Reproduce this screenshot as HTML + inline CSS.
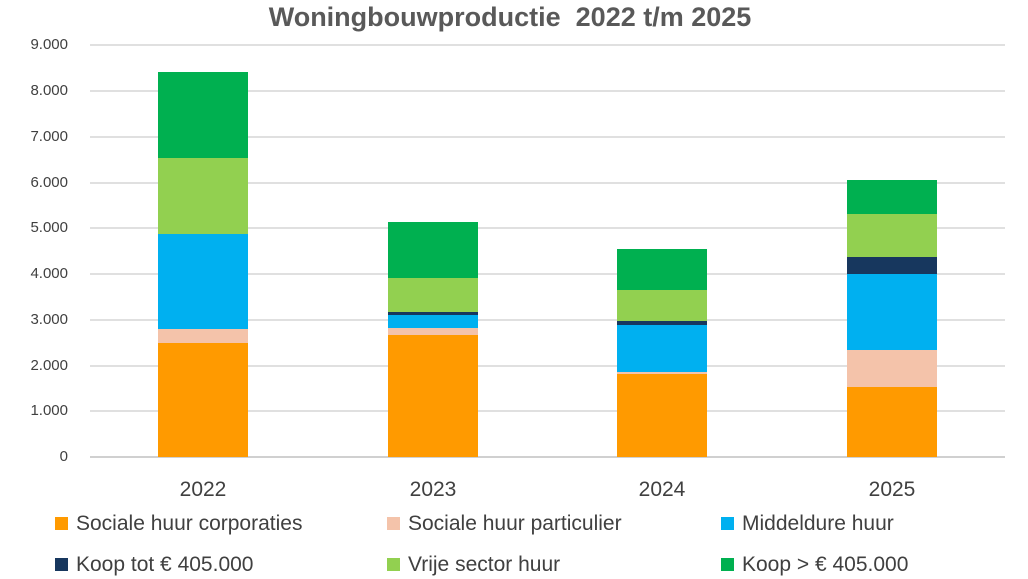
<!DOCTYPE html>
<html><head><style>
body{margin:0;background:#fff;font-family:"Liberation Sans",sans-serif;}
.c{position:relative;width:1028px;height:579px;overflow:hidden;}
.t{position:absolute;top:2px;left:0;width:1020px;text-align:center;font-size:27px;font-weight:bold;color:#595959;}
.g{position:absolute;left:90px;width:915px;height:2px;background:#e0e0e0;}
.yl{position:absolute;left:0;width:68px;text-align:right;font-size:15px;color:#404040;}
.b{position:absolute;width:90px;}
.xl{position:absolute;top:478px;width:120px;text-align:center;font-size:21px;color:#404040;}
.lg{position:absolute;font-size:21px;color:#404040;}
.lg i{display:inline-block;width:13px;height:13px;margin-right:8px;vertical-align:0px;}
</style></head><body><div class="c">
<div class="t">Woningbouwproductie&nbsp; 2022 t/m 2025</div>
<div class="g" style="top:44px"></div><div class="yl" style="top:36px">9.000</div>
<div class="g" style="top:90px"></div><div class="yl" style="top:82px">8.000</div>
<div class="g" style="top:136px"></div><div class="yl" style="top:128px">7.000</div>
<div class="g" style="top:182px"></div><div class="yl" style="top:174px">6.000</div>
<div class="g" style="top:227px"></div><div class="yl" style="top:219px">5.000</div>
<div class="g" style="top:273px"></div><div class="yl" style="top:265px">4.000</div>
<div class="g" style="top:319px"></div><div class="yl" style="top:311px">3.000</div>
<div class="g" style="top:365px"></div><div class="yl" style="top:357px">2.000</div>
<div class="g" style="top:410px"></div><div class="yl" style="top:402px">1.000</div>
<div class="g" style="top:456px;background:#d0d0d0"></div><div class="yl" style="top:448px">0</div>

<div class="b" style="left:158px;top:72px;height:86px;background:#00b050"></div>
<div class="b" style="left:158px;top:158px;height:76px;background:#92d050"></div>
<div class="b" style="left:158px;top:234px;height:95px;background:#00b0f0"></div>
<div class="b" style="left:158px;top:329px;height:14px;background:#f4c3aa"></div>
<div class="b" style="left:158px;top:343px;height:114px;background:#ff9a00"></div>

<div class="b" style="left:388px;top:222px;height:56px;background:#00b050"></div>
<div class="b" style="left:388px;top:278px;height:34px;background:#92d050"></div>
<div class="b" style="left:388px;top:312px;height:3px;background:#17375e"></div>
<div class="b" style="left:388px;top:315px;height:13px;background:#00b0f0"></div>
<div class="b" style="left:388px;top:328px;height:7px;background:#f4c3aa"></div>
<div class="b" style="left:388px;top:335px;height:122px;background:#ff9a00"></div>

<div class="b" style="left:617px;top:249px;height:41px;background:#00b050"></div>
<div class="b" style="left:617px;top:290px;height:31px;background:#92d050"></div>
<div class="b" style="left:617px;top:321px;height:4px;background:#17375e"></div>
<div class="b" style="left:617px;top:325px;height:47px;background:#00b0f0"></div>
<div class="b" style="left:617px;top:372px;height:2px;background:#f4c3aa"></div>
<div class="b" style="left:617px;top:374px;height:83px;background:#ff9a00"></div>

<div class="b" style="left:847px;top:180px;height:34px;background:#00b050"></div>
<div class="b" style="left:847px;top:214px;height:43px;background:#92d050"></div>
<div class="b" style="left:847px;top:257px;height:17px;background:#17375e"></div>
<div class="b" style="left:847px;top:274px;height:76px;background:#00b0f0"></div>
<div class="b" style="left:847px;top:350px;height:37px;background:#f4c3aa"></div>
<div class="b" style="left:847px;top:387px;height:70px;background:#ff9a00"></div>

<div class="xl" style="left:143px">2022</div>
<div class="xl" style="left:373px">2023</div>
<div class="xl" style="left:602px">2024</div>
<div class="xl" style="left:832px">2025</div>

<div class="lg" style="left:55px;top:512px"><i style="background:#ff9a00"></i>Sociale huur corporaties</div>
<div class="lg" style="left:387px;top:512px"><i style="background:#f4c3aa"></i>Sociale huur particulier</div>
<div class="lg" style="left:721px;top:512px"><i style="background:#00b0f0"></i>Middeldure huur</div>
<div class="lg" style="left:55px;top:553px"><i style="background:#17375e"></i>Koop tot € 405.000</div>
<div class="lg" style="left:387px;top:553px"><i style="background:#92d050"></i>Vrije sector huur</div>
<div class="lg" style="left:721px;top:553px"><i style="background:#00b050"></i>Koop &gt; € 405.000</div>
</div></body></html>
